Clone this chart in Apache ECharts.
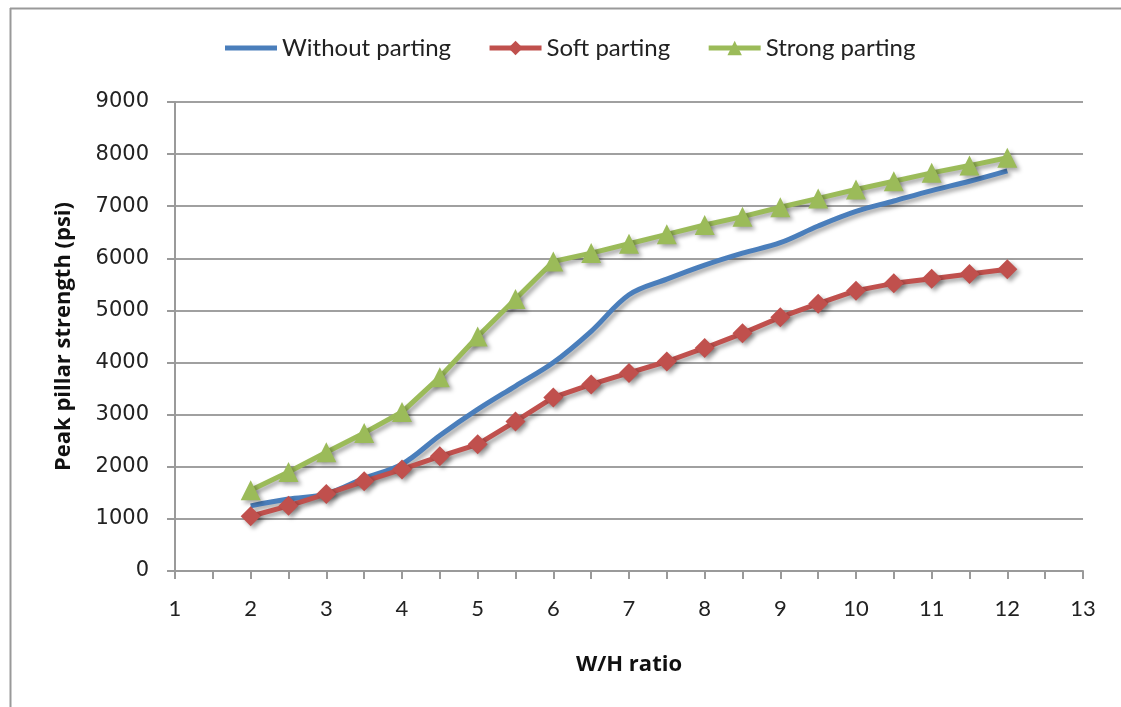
<!DOCTYPE html>
<html>
<head>
<meta charset="utf-8">
<script src="https://cdn.jsdelivr.net/npm/echarts@6/dist/echarts.min.js"></script>
<style>
html,body{margin:0;padding:0;background:#fff;}
#chart{width:1121px;height:707px;}
</style>
</head>
<body>
<div id="chart"></div>
<script>
// W/H ratio values
var ratios = [2, 2.5, 3, 3.5, 4, 4.5, 5, 5.5, 6, 6.5, 7, 7.5, 8, 8.5, 9, 9.5, 10, 10.5, 11, 11.5, 12];
var withoutParting = [1250, 1380, 1480, 1780, 2050, 2600, 3100, 3550, 4000, 4600, 5300, 5600, 5870, 6100, 6300, 6620, 6900, 7100, 7300, 7480, 7680];
var softParting = [1050, 1250, 1480, 1720, 1950, 2200, 2430, 2870, 3330, 3580, 3800, 4020, 4280, 4560, 4870, 5130, 5380, 5520, 5610, 5700, 5790];
var strongParting = [1550, 1900, 2280, 2650, 3050, 3720, 4500, 5220, 5940, 6100, 6280, 6460, 6640, 6800, 6980, 7150, 7320, 7480, 7640, 7780, 7930];
var seriesNames = ['Without parting', 'Soft parting', 'Strong parting'];

function pairs(vals){
    return ratios.map(function(x, i){ return [x, vals[i]]; });
}

var shadow = {shadowColor: 'rgba(0,0,0,0.35)', shadowBlur: 4, shadowOffsetX: 3, shadowOffsetY: 3};

var chart = echarts.init(document.getElementById('chart'));
var option = {
    backgroundColor: '#fff',
    animation: false,
    textStyle: {fontFamily: 'Lato'},
    graphic: [
        {type: 'line', shape: {x1: 10.5, y1: 8, x2: 10.5, y2: 707}, style: {stroke: '#999', lineWidth: 2}},
        {type: 'line', shape: {x1: 10, y1: 8.5, x2: 1121, y2: 8.5}, style: {stroke: '#999', lineWidth: 2}}
    ],
    legend: {
        top: 31,
        left: 220,
        itemWidth: 52,
        itemHeight: 18,
        itemGap: 36,
        lineStyle: {width: 5},
        textStyle: {fontSize: 24, color: '#222', fontFamily: 'Lato'},
        data: [
            {name: seriesNames[0], icon: 'path://M0,0H52V5H0Z'},
            seriesNames[1],
            seriesNames[2]
        ]
    },
    grid: {left: 175, right: 38, top: 102, bottom: 136},
    xAxis: {
        type: 'value',
        min: 1, max: 13, interval: 1,
        name: 'W/H ratio',
        nameLocation: 'middle',
        nameGap: 83,
        nameTextStyle: {fontSize: 22, fontWeight: 'bold', color: '#111', fontFamily: 'Open Sans'},
        axisLine: {lineStyle: {color: '#9a9a9a', width: 2}},
        axisTick: {show: true, length: 8, lineStyle: {color: '#9a9a9a', width: 2}},
        minorTick: {show: true, splitNumber: 2, length: 8, lineStyle: {color: '#9a9a9a', width: 2}},
        axisLabel: {fontSize: 22, color: '#222', margin: 27, fontFamily: 'Lato'},
        splitLine: {show: false}
    },
    yAxis: {
        type: 'value',
        min: 0, max: 9000, interval: 1000,
        name: 'Peak pillar strength (psi)',
        nameLocation: 'middle',
        nameGap: 100,
        nameTextStyle: {fontSize: 22, fontWeight: 'bold', color: '#111', fontFamily: 'Open Sans'},
        axisLine: {show: true, lineStyle: {color: '#9a9a9a', width: 2}},
        axisTick: {show: true, length: 8, lineStyle: {color: '#9a9a9a', width: 2}},
        axisLabel: {fontSize: 21, color: '#222', margin: 26, fontFamily: 'DejaVu Sans',
            formatter: function(v){ return String(v); }},
        splitLine: {lineStyle: {color: '#a0a0a0', width: 2}}
    },
    series: [
        {
            name: seriesNames[0],
            type: 'line',
            data: pairs(withoutParting),
            smooth: 0.35,
            symbol: 'none',
            color: '#4a7ebb',
            lineStyle: Object.assign({width: 5, color: '#4a7ebb'}, shadow)
        },
        {
            name: seriesNames[1],
            type: 'line',
            data: pairs(softParting),
            symbol: 'diamond',
            symbolSize: 20,
            color: '#c0504d',
            itemStyle: Object.assign({color: '#c0504d'}, shadow),
            lineStyle: Object.assign({width: 5, color: '#c0504d'}, shadow)
        },
        {
            name: seriesNames[2],
            type: 'line',
            data: pairs(strongParting),
            symbol: 'triangle',
            symbolSize: 20,
            color: '#9bbb59',
            itemStyle: Object.assign({color: '#9bbb59'}, shadow),
            lineStyle: Object.assign({width: 5, color: '#9bbb59'}, shadow)
        }
    ]
};
chart.setOption(option);
</script>
</body>
</html>
